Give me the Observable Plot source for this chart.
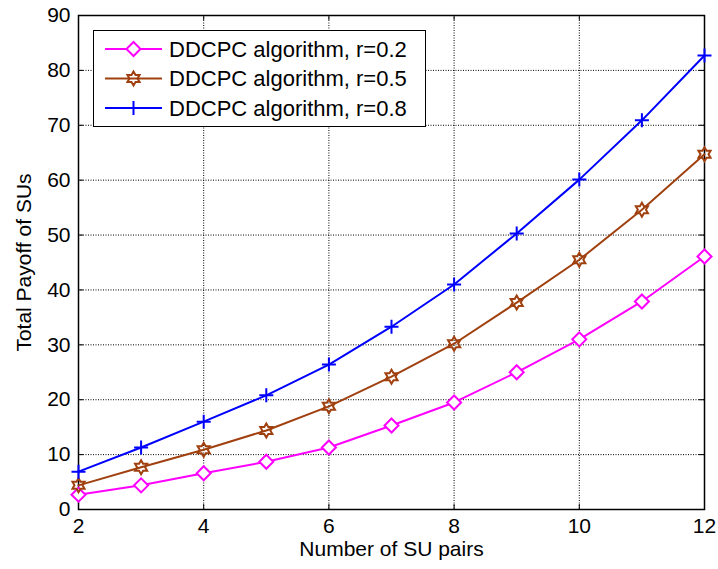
<!DOCTYPE html>
<html>
<head>
<meta charset="utf-8">
<script src="https://cdn.jsdelivr.net/npm/d3@7"></script>
<script src="https://cdn.jsdelivr.net/npm/@observablehq/plot@0.6"></script>
<style>
  body { margin: 0; background: #fff; }
  #wrap { position: relative; width: 718px; height: 569px; font-family: "Liberation Sans", Arial, sans-serif; }
  #legend { position: absolute; left: 93px; top: 30px; width: 333px; height: 97px; border: 1.5px solid #000; background: #fff; box-sizing: border-box; }
</style>
</head>
<body>
<div id="wrap"><div id="chart"></div><div id="legend"></div></div>
<script>
const pairs = [2, 3, 4, 5, 6, 7, 8, 9, 10, 11, 12];
const payoffR02 = [2.7, 4.4, 6.6, 8.7, 11.3, 15.3, 19.5, 25.0, 31.0, 37.9, 46.1];
const payoffR05 = [4.4, 7.7, 10.9, 14.4, 18.8, 24.2, 30.2, 37.7, 45.5, 54.6, 64.7];
const payoffR08 = [6.9, 11.3, 16.0, 20.8, 26.4, 33.3, 41.0, 50.3, 60.1, 70.9, 82.7];
const seriesNames = ["DDCPC algorithm, r=0.2", "DDCPC algorithm, r=0.5", "DDCPC algorithm, r=0.8"];
const seriesColors = ["#FF00FF", "#A0400F", "#0000FF"];
const xTicks = [2, 4, 6, 8, 10, 12];
const yTicks = [0, 10, 20, 30, 40, 50, 60, 70, 80, 90];
const xLabel = "Number of SU pairs";
const yLabel = "Total Payoff of SUs";

const diamondSym = { draw(ctx, size) { const r = Math.sqrt(size / Math.PI);
  ctx.moveTo(0, -r); ctx.lineTo(r, 0); ctx.lineTo(0, r); ctx.lineTo(-r, 0); ctx.closePath(); } };
const hexagramSym = { draw(ctx, size) { const R = Math.sqrt(size / Math.PI), ri = R * 0.577;
  for (let i = 0; i < 12; i++) { const a = -Math.PI / 2 + i * Math.PI / 6, rr = i % 2 ? ri : R;
    const x = rr * Math.cos(a), y = rr * Math.sin(a); i ? ctx.lineTo(x, y) : ctx.moveTo(x, y); }
  ctx.closePath(); } };
const plusSym = { draw(ctx, size) { const r = Math.sqrt(size / Math.PI);
  ctx.moveTo(-r, 0); ctx.lineTo(r, 0); ctx.moveTo(0, -r); ctx.lineTo(0, r); } };
const symbols = [diamondSym, hexagramSym, plusSym];

const allSeries = [payoffR02, payoffR05, payoffR08];
const data = [];
allSeries.forEach((vals, s) => vals.forEach((v, i) => data.push({x: pairs[i], y: v, s})));

const marks = [
  Plot.gridX(xTicks, {stroke: "#000", strokeOpacity: 1, strokeDasharray: "1,1.5"}),
  Plot.gridY(yTicks, {stroke: "#000", strokeOpacity: 1, strokeDasharray: "1,1.5"}),
  Plot.ruleX(xTicks, {x: d => d, y1: 0, y2: 0.9, stroke: "#000"}),
  Plot.ruleX(xTicks, {x: d => d, y1: 90, y2: 89.1, stroke: "#000"}),
  Plot.ruleY(yTicks, {y: d => d, x1: 2, x2: 2.08, stroke: "#000"}),
  Plot.ruleY(yTicks, {y: d => d, x1: 12, x2: 11.92, stroke: "#000"}),
  Plot.frame({stroke: "#000", strokeWidth: 1.5}),
  Plot.axisX(xTicks, {tickSize: 0, tickPadding: 9, label: xLabel, labelAnchor: "center", labelOffset: 46, labelArrow: "none", fontSize: 21}),
  Plot.axisY(yTicks, {tickSize: 0, tickPadding: 8, label: yLabel, labelAnchor: "center", labelOffset: 62, labelArrow: "none", fontSize: 21})
];
allSeries.forEach((vals, s) => {
  const d = data.filter(p => p.s === s);
  marks.push(Plot.line(d, {x: "x", y: "y", stroke: seriesColors[s], strokeWidth: 2}));
  marks.push(Plot.dot(d, {x: "x", y: "y", symbol: () => symbols[s], r: 7, stroke: seriesColors[s], strokeWidth: 2, fill: s === 0 ? "white" : "none"}));
});

const chart = Plot.plot({
  width: 718, height: 569,
  marginLeft: 78, marginRight: 14, marginTop: 15, marginBottom: 60,
  style: {fontSize: "21px", fontFamily: "'Liberation Sans', Arial, sans-serif", color: "#000", background: "#fff"},
  x: {domain: [2, 12], label: xLabel},
  y: {domain: [0, 90], label: yLabel},
  marks
});
document.getElementById("chart").appendChild(chart);

// legend
const leg = document.getElementById("legend");
const ns = "http://www.w3.org/2000/svg";
const lsvg = document.createElementNS(ns, "svg");
lsvg.setAttribute("width", 332); lsvg.setAttribute("height", 95);
lsvg.style.position = "absolute"; lsvg.style.left = "0px"; lsvg.style.top = "0px";
seriesNames.forEach((name, s) => {
  const cy = 18 + s * 29.5;
  const line = document.createElementNS(ns, "line");
  line.setAttribute("x1", 11); line.setAttribute("x2", 68); line.setAttribute("y1", cy); line.setAttribute("y2", cy);
  line.setAttribute("stroke", seriesColors[s]); line.setAttribute("stroke-width", 2);
  lsvg.appendChild(line);
  const p = d3.path(); symbols[s].draw(p, 49 * Math.PI);
  const path = document.createElementNS(ns, "path");
  path.setAttribute("d", p.toString()); path.setAttribute("transform", `translate(39.5,${cy})`);
  path.setAttribute("stroke", seriesColors[s]); path.setAttribute("stroke-width", 2);
  path.setAttribute("fill", s === 0 ? "white" : "none");
  lsvg.appendChild(path);
  const t = document.createElementNS(ns, "text");
  t.setAttribute("x", 75); t.setAttribute("y", cy); t.setAttribute("dy", "0.36em");
  t.setAttribute("font-size", 22); t.setAttribute("font-family", "'Liberation Sans', Arial, sans-serif");
  t.textContent = name;
  lsvg.appendChild(t);
});
leg.appendChild(lsvg);
</script>
</body>
</html>
